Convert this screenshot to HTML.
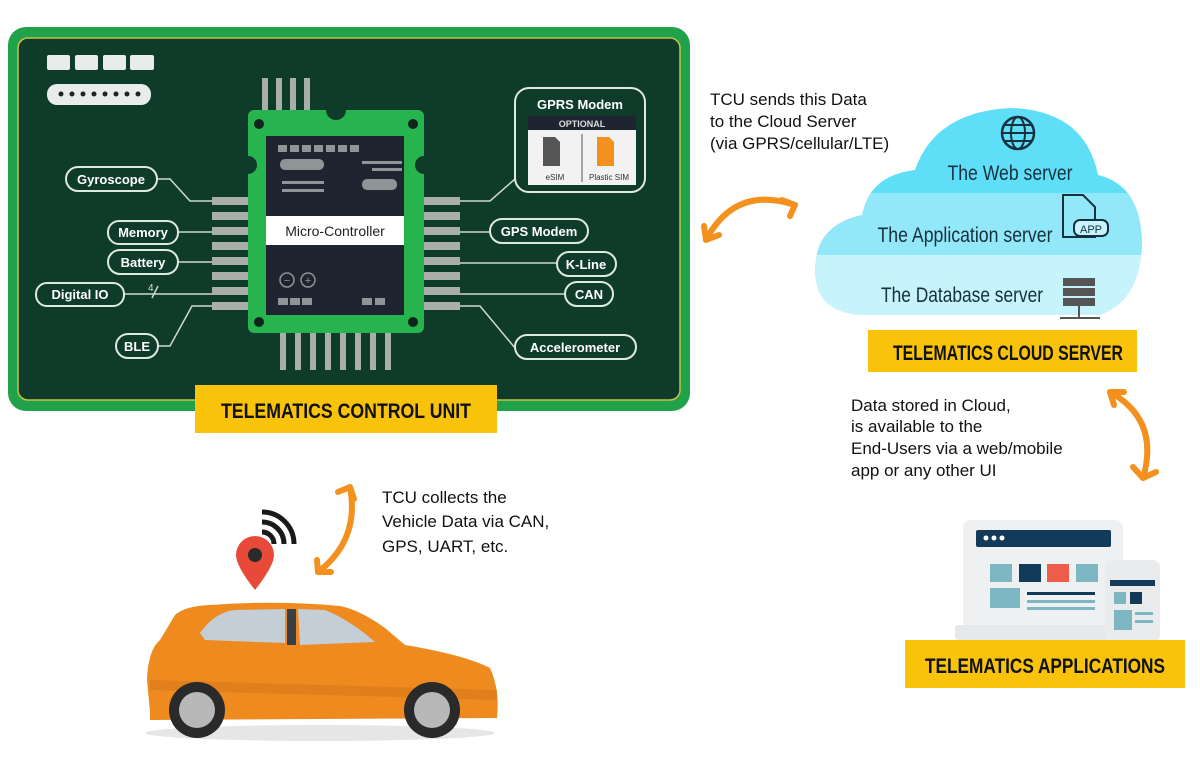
<!DOCTYPE html>
<html><head><meta charset="utf-8"><style>
html,body{margin:0;padding:0;background:#fff;}
svg{display:block;font-family:"Liberation Sans",sans-serif;}
.pl{fill:none;stroke:#dfe8e2;stroke-width:2;}
.pt{fill:#fff;font-size:13px;font-weight:bold;text-anchor:middle;}
.ln{stroke:#cfd8d2;stroke-width:1.5;fill:none;}
.pin{fill:#a9aeab;}
.lab{font-family:"Liberation Sans",sans-serif;font-weight:bold;font-size:21px;fill:#111;text-anchor:middle;}
.tx{font-size:17px;fill:#111;}
.arr{fill:none;stroke:#f4901e;stroke-width:6;stroke-linecap:round;}
.cl{font-size:21px;fill:#17303d;text-anchor:middle;}
</style></head><body>
<svg width="1200" height="766" viewBox="0 0 1200 766">
<!-- board -->
<rect x="8" y="27" width="682" height="384" rx="18" fill="#21a24a"/>
<rect x="18" y="38" width="662" height="362" rx="10" fill="#0f3b2b" stroke="#c9c04a" stroke-width="1.5"/>
<g fill="#e8ecea">
<rect x="47" y="55" width="23" height="15" rx="2"/><rect x="75" y="55" width="23" height="15" rx="2"/><rect x="103" y="55" width="23" height="15" rx="2"/><rect x="130" y="55" width="24" height="15" rx="2"/>
<rect x="47" y="84" width="104" height="21" rx="10"/></g>
<g fill="#222">
<circle cx="61" cy="94" r="2.5"/><circle cx="72" cy="94" r="2.5"/><circle cx="83" cy="94" r="2.5"/><circle cx="94" cy="94" r="2.5"/><circle cx="105" cy="94" r="2.5"/><circle cx="116" cy="94" r="2.5"/><circle cx="127" cy="94" r="2.5"/><circle cx="138" cy="94" r="2.5"/></g>
<!-- pins -->
<g class="pin">
<rect x="262" y="78" width="6" height="34"/><rect x="276" y="78" width="6" height="34"/><rect x="290" y="78" width="6" height="34"/><rect x="304" y="78" width="6" height="34"/>
<rect x="280" y="330" width="6" height="40"/><rect x="295" y="330" width="6" height="40"/><rect x="310" y="330" width="6" height="40"/><rect x="325" y="330" width="6" height="40"/><rect x="340" y="330" width="6" height="40"/><rect x="355" y="330" width="6" height="40"/><rect x="370" y="330" width="6" height="40"/><rect x="385" y="330" width="6" height="40"/>
<rect x="212" y="197" width="38" height="8"/><rect x="212" y="212" width="38" height="8"/><rect x="212" y="227" width="38" height="8"/><rect x="212" y="242" width="38" height="8"/><rect x="212" y="257" width="38" height="8"/><rect x="212" y="272" width="38" height="8"/><rect x="212" y="287" width="38" height="8"/><rect x="212" y="302" width="38" height="8"/>
<rect x="422" y="197" width="38" height="8"/><rect x="422" y="212" width="38" height="8"/><rect x="422" y="227" width="38" height="8"/><rect x="422" y="242" width="38" height="8"/><rect x="422" y="257" width="38" height="8"/><rect x="422" y="272" width="38" height="8"/><rect x="422" y="287" width="38" height="8"/><rect x="422" y="302" width="38" height="8"/>
</g>
<!-- chip -->
<rect x="248" y="110" width="176" height="223" rx="6" fill="#27b34d"/>
<circle cx="336" cy="110" r="10" fill="#0f3b2b"/><circle cx="248" cy="165" r="9" fill="#0f3b2b"/><circle cx="424" cy="165" r="9" fill="#0f3b2b"/>
<g fill="#10261c"><circle cx="259" cy="124" r="5"/><circle cx="413" cy="124" r="5"/><circle cx="259" cy="322" r="5"/><circle cx="413" cy="322" r="5"/></g>
<rect x="266" y="136" width="138" height="179" fill="#1e2430"/>
<g fill="#8f9596">
<rect x="278" y="145" width="9" height="7"/><rect x="290" y="145" width="9" height="7"/><rect x="302" y="145" width="9" height="7"/><rect x="314" y="145" width="9" height="7"/><rect x="326" y="145" width="9" height="7"/><rect x="338" y="145" width="9" height="7"/><rect x="350" y="145" width="9" height="7"/>
<rect x="280" y="159" width="44" height="11" rx="5"/><rect x="362" y="161" width="40" height="3"/><rect x="372" y="168" width="30" height="3"/>
<rect x="282" y="181" width="42" height="3"/><rect x="282" y="189" width="42" height="3"/><rect x="362" y="179" width="35" height="11" rx="5"/>
<rect x="278" y="298" width="10" height="7"/><rect x="290" y="298" width="10" height="7"/><rect x="302" y="298" width="10" height="7"/><rect x="362" y="298" width="10" height="7"/><rect x="375" y="298" width="10" height="7"/></g>
<circle cx="287" cy="280" r="7" fill="none" stroke="#8f9596" stroke-width="1.5"/><circle cx="308" cy="280" r="7" fill="none" stroke="#8f9596" stroke-width="1.5"/>
<text x="287" y="284" fill="#8f9596" font-size="11" text-anchor="middle">−</text><text x="308" y="284" fill="#8f9596" font-size="11" text-anchor="middle">+</text>
<rect x="266" y="216" width="138" height="29" fill="#fff"/>
<text x="335" y="236" font-size="14" text-anchor="middle" fill="#222">Micro-Controller</text>
<!-- connectors -->
<path class="ln" d="M157 179 L170 179 L190 201 L212 201"/>
<path class="ln" d="M178 232 L212 232"/><path class="ln" d="M178 262 L212 262"/><path class="ln" d="M124 294 L212 294"/>
<text x="148" y="291" fill="#ddd" font-size="10">4</text><path class="ln" d="M152 298 L158 286"/>
<path class="ln" d="M158 346 L170 346 L192 306 L212 306"/>
<path class="ln" d="M460 201 L490 201 L515 179"/><path class="ln" d="M460 232 L490 232"/><path class="ln" d="M460 263 L557 263"/><path class="ln" d="M460 294 L565 294"/><path class="ln" d="M460 306 L480 306 L515 348"/>
<g class="pl">
<rect x="66" y="167" width="91" height="24" rx="12"/><rect x="108" y="221" width="70" height="23" rx="11"/><rect x="108" y="250" width="70" height="24" rx="12"/><rect x="36" y="283" width="88" height="23" rx="11"/><rect x="116" y="334" width="42" height="24" rx="12"/>
<rect x="490" y="219" width="98" height="24" rx="12"/><rect x="557" y="252" width="59" height="24" rx="12"/><rect x="565" y="282" width="48" height="24" rx="12"/><rect x="515" y="335" width="121" height="24" rx="12"/>
<rect x="515" y="88" width="130" height="104" rx="14"/></g>
<text class="pt" x="111" y="184">Gyroscope</text><text class="pt" x="143" y="237">Memory</text><text class="pt" x="143" y="267">Battery</text><text class="pt" x="80" y="299">Digital IO</text><text class="pt" x="137" y="351">BLE</text>
<text class="pt" x="539" y="236">GPS Modem</text><text class="pt" x="586" y="269">K-Line</text><text class="pt" x="589" y="299">CAN</text><text class="pt" x="575" y="352">Accelerometer</text>
<text class="pt" x="580" y="109">GPRS Modem</text>
<rect x="528" y="116" width="108" height="14" fill="#1e2430"/><text x="582" y="127" fill="#ddd" font-size="9" font-weight="bold" text-anchor="middle">OPTIONAL</text>
<rect x="528" y="130" width="108" height="55" fill="#f2f2f2"/>
<line x1="582" y1="134" x2="582" y2="182" stroke="#555"/>
<path d="M543 137 h12 l5 5 v24 h-17z" fill="#555"/><path d="M597 137 h12 l5 5 v24 h-17z" fill="#f4901e"/>
<text x="555" y="180" font-size="8" text-anchor="middle" fill="#333">eSIM</text><text x="609" y="180" font-size="8" text-anchor="middle" fill="#333">Plastic SIM</text>
<rect x="195" y="385" width="302" height="48" fill="#f8c30a"/>
<text class="lab" x="346" y="418" textLength="250" lengthAdjust="spacingAndGlyphs">TELEMATICS CONTROL UNIT</text>
<!-- top text -->
<text class="tx" x="710" y="105">TCU sends this Data</text><text class="tx" x="710" y="127">to the Cloud Server</text><text class="tx" x="710" y="149">(via GPRS/cellular/LTE)</text>
<!-- arrows -->
<path class="arr" d="M706 240 Q735 185 795 205"/><path class="arr" d="M706 240 l-2 -14 M706 240 l13 -5"/><path class="arr" d="M795 205 l-13 -5 M795 205 l-5 11"/>
<path class="arr" d="M1110 392 Q1160 420 1143 478"/><path class="arr" d="M1110 392 l14 0 M1110 392 l4 13"/><path class="arr" d="M1143 478 l-10 -11 M1143 478 l13 -6"/>
<path class="arr" d="M350 487 Q360 540 318 572"/><path class="arr" d="M350 487 l-12 5 M350 487 l4 12"/><path class="arr" d="M318 572 l13 0 M318 572 l-1 -12"/>
<!-- cloud -->
<defs><clipPath id="cc"><path d="M860 315 Q815 312 815 270 Q815 225 862 215 Q870 175 915 170 Q935 112 1010 108 Q1085 110 1098 175 Q1140 185 1142 240 Q1142 300 1100 315 Z"/></clipPath></defs>
<g clip-path="url(#cc)"><rect x="800" y="100" width="360" height="95" fill="#5fdff7"/><rect x="800" y="193" width="360" height="62" fill="#92e7f8"/><rect x="800" y="255" width="360" height="70" fill="#c6f3fc"/></g>
<circle cx="1018" cy="133" r="16" fill="none" stroke="#17303d" stroke-width="2.5"/><ellipse cx="1018" cy="133" rx="7" ry="16" fill="none" stroke="#17303d" stroke-width="2"/><path d="M1002 133 h32 M1005 125 h26 M1005 141 h26" stroke="#17303d" stroke-width="2"/>
<text class="cl" x="1010" y="180" textLength="125" lengthAdjust="spacingAndGlyphs">The Web server</text>
<text class="cl" x="965" y="242" textLength="175" lengthAdjust="spacingAndGlyphs">The Application server</text>
<path d="M1063 195 h20 l12 12 v30 h-32z" fill="none" stroke="#17303d" stroke-width="2"/><rect x="1074" y="220" width="34" height="16" rx="6" fill="#c6f3fc" stroke="#17303d" stroke-width="2"/><text x="1091" y="233" font-size="11" text-anchor="middle" fill="#17303d">APP</text>
<text class="cl" x="962" y="302" textLength="162" lengthAdjust="spacingAndGlyphs">The Database server</text>
<g fill="#555"><rect x="1063" y="278" width="32" height="8"/><rect x="1063" y="288" width="32" height="8"/><rect x="1063" y="298" width="32" height="8"/></g>
<path d="M1079 306 v12 M1060 318 h40" stroke="#555" stroke-width="2"/>
<rect x="868" y="330" width="269" height="42" fill="#f8c30a"/>
<text class="lab" x="1008" y="360" textLength="230" lengthAdjust="spacingAndGlyphs">TELEMATICS CLOUD SERVER</text>
<text class="tx" x="851" y="411">Data stored in Cloud,</text><text class="tx" x="851" y="432">is  available to the</text><text class="tx" x="851" y="454">End-Users via a web/mobile</text><text class="tx" x="851" y="476">app or any other UI</text>
<!-- apps -->
<rect x="963" y="520" width="160" height="110" rx="8" fill="#eef0f1"/><rect x="955" y="625" width="170" height="15" rx="3" fill="#e6e8ea"/>
<rect x="976" y="530" width="135" height="17" rx="2" fill="#143a5a"/>
<g fill="#fff"><circle cx="986" cy="538" r="2.5"/><circle cx="994" cy="538" r="2.5"/><circle cx="1002" cy="538" r="2.5"/></g>
<rect x="990" y="564" width="22" height="18" fill="#7fb6c4"/><rect x="1019" y="564" width="22" height="18" fill="#143a5a"/><rect x="1047" y="564" width="22" height="18" fill="#ee5d4a"/><rect x="1076" y="564" width="22" height="18" fill="#7fb6c4"/>
<rect x="990" y="588" width="30" height="20" fill="#7fb6c4"/><rect x="1027" y="592" width="68" height="3" fill="#143a5a"/><rect x="1027" y="600" width="68" height="3" fill="#7fb6c4"/><rect x="1027" y="607" width="68" height="3" fill="#7fb6c4"/>
<rect x="1105" y="560" width="55" height="82" rx="7" fill="#e9ebec"/><rect x="1110" y="580" width="45" height="6" fill="#143a5a"/>
<rect x="1114" y="592" width="12" height="12" fill="#7fb6c4"/><rect x="1130" y="592" width="12" height="12" fill="#143a5a"/><rect x="1114" y="610" width="18" height="20" fill="#7fb6c4"/><rect x="1135" y="612" width="18" height="3" fill="#7fb6c4"/><rect x="1135" y="620" width="18" height="3" fill="#7fb6c4"/>
<rect x="905" y="640" width="280" height="48" fill="#f8c30a"/>
<text class="lab" x="1045" y="673" textLength="240" lengthAdjust="spacingAndGlyphs">TELEMATICS APPLICATIONS</text>
<!-- text car -->
<text class="tx" x="382" y="503">TCU collects the</text><text class="tx" x="382" y="527">Vehicle Data via CAN,</text><text class="tx" x="382" y="552">GPS, UART, etc.</text>
<!-- car -->
<ellipse cx="320" cy="733" rx="175" ry="8" fill="#e6e6e6"/>
<path d="M150 712 L147 680 Q148 650 160 640 L175 615 Q185 606 210 605 Q280 600 340 606 Q360 610 385 628 L405 645 Q465 655 490 668 Q500 690 497 718 L150 720 Z" fill="#ee8a1e"/>
<path d="M150 680 L497 690 L497 700 L150 690Z" fill="#d9781a" opacity="0.6"/>
<path d="M200 633 Q215 612 235 610 L285 609 L285 643 L205 640 Z" fill="#c4ced7"/>
<path d="M298 609 L325 610 Q350 620 375 642 L300 645 Z" fill="#c4ced7"/>
<rect x="287" y="609" width="9" height="36" fill="#3a3f45"/>
<circle cx="197" cy="710" r="28" fill="#2a2a2a"/><circle cx="197" cy="710" r="18" fill="#b8b8b8"/>
<circle cx="432" cy="710" r="28" fill="#2a2a2a"/><circle cx="432" cy="710" r="18" fill="#b8b8b8"/>
<path d="M255 590 Q236 566 236 555 A19 19 0 0 1 274 555 Q274 566 255 590Z" fill="#e84a3a"/><circle cx="255" cy="555" r="7" fill="#2a2a2a"/>
<path d="M262 532 A12 12 0 0 1 274 544 M262 522 A22 22 0 0 1 284 544 M262 512 A32 32 0 0 1 294 544" fill="none" stroke="#1a1a1a" stroke-width="5"/>
</svg>
</body></html>
